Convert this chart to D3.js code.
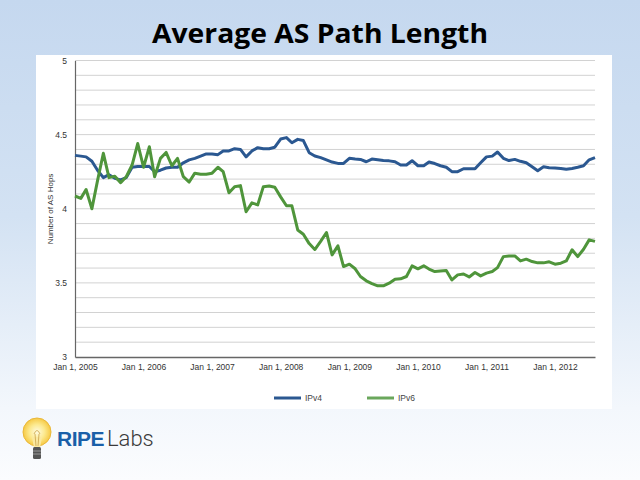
<!DOCTYPE html>
<html><head><meta charset="utf-8">
<script src="https://cdn.jsdelivr.net/npm/d3@7"></script>
<style>html,body{margin:0;padding:0;overflow:hidden;}svg{display:block;}</style>
</head><body>
<script>
const title = "Average AS Path Length";
const yAxisTitle = "Number of AS Hops";
const seriesNames = ["IPv4", "IPv6"];
const seriesColors = ["#2b5891", "#4f953b"];
const legendColors = ["#2b5891", "#6aa75c"];
const yTicks = [3, 3.5, 4, 4.5, 5];
const xTickYears = [2005, 2006, 2007, 2008, 2009, 2010, 2011, 2012];
// monthly, Jan 2005 .. Aug 2012
const ipv4 = [4.36,4.355,4.35,4.32,4.26,4.21,4.23,4.205,4.195,4.21,4.28,4.285,
  4.285,4.285,4.25,4.26,4.275,4.28,4.28,4.31,4.33,4.34,4.355,4.37,
  4.37,4.365,4.39,4.39,4.405,4.40,4.35,4.39,4.412,4.405,4.405,4.415,
  4.47,4.48,4.445,4.468,4.46,4.378,4.356,4.345,4.33,4.315,4.306,4.306,
  4.34,4.335,4.333,4.317,4.335,4.33,4.325,4.323,4.317,4.295,4.295,4.324,
  4.29,4.29,4.315,4.305,4.29,4.28,4.25,4.25,4.27,4.27,4.27,4.31,
  4.35,4.355,4.383,4.34,4.325,4.333,4.32,4.31,4.283,4.257,4.283,4.277,
  4.275,4.272,4.266,4.272,4.28,4.29,4.33,4.345];
const ipv6 = [4.086,4.07,4.13,4.0,4.19,4.374,4.21,4.22,4.176,4.216,4.295,4.44,
  4.28,4.418,4.216,4.34,4.38,4.29,4.34,4.216,4.18,4.24,4.233,4.233,
  4.24,4.28,4.25,4.108,4.149,4.156,3.98,4.04,4.026,4.149,4.153,4.145,
  4.08,4.02,4.02,3.857,3.828,3.765,3.725,3.78,3.84,3.689,3.75,3.61,
  3.626,3.595,3.543,3.514,3.495,3.48,3.48,3.498,3.525,3.527,3.543,3.615,
  3.595,3.615,3.593,3.576,3.58,3.583,3.52,3.554,3.56,3.54,3.57,3.547,
  3.566,3.577,3.603,3.677,3.682,3.682,3.648,3.66,3.644,3.635,3.635,3.642,
  3.626,3.633,3.648,3.723,3.677,3.727,3.79,3.78];

const W = 640, H = 480;
const svg = d3.select("body").append("svg").attr("width", W).attr("height", H);
const defs = svg.append("defs");
const bg = defs.append("linearGradient").attr("id","bg").attr("x1",0).attr("y1",0).attr("x2",0).attr("y2",1);
bg.append("stop").attr("offset","0").attr("stop-color","#c5d8ef");
bg.append("stop").attr("offset","0.45").attr("stop-color","#d3e2f3");
bg.append("stop").attr("offset","0.85").attr("stop-color","#f3f7fc");
bg.append("stop").attr("offset","1").attr("stop-color","#fbfcfe");
svg.append("rect").attr("width",W).attr("height",H).attr("fill","url(#bg)");

svg.append("text").attr("x",320).attr("y",43).attr("text-anchor","middle")
  .attr("font-family","'Open Sans', sans-serif").attr("font-weight",700).attr("font-size",27)
  .attr("textLength",336).attr("lengthAdjust","spacingAndGlyphs")
  .attr("fill","#000").text(title);

// panel
svg.append("rect").attr("x",36).attr("y",55).attr("width",576).attr("height",354).attr("fill","#fff");

const dates = d3.timeMonth.range(new Date(2005,0,1), new Date(2012,8,1));
const x = d3.scaleTime().domain([new Date(2005,0,1), new Date(2012,7,1)]).range([75, 595]);
const y = d3.scaleLinear().domain([3,5]).range([357, 60.5]);

const g = svg.append("g").attr("font-family","'Liberation Sans', Arial, sans-serif");
// grid lines every 0.1
const gridVals = d3.range(31, 51).map(d => d/10);
g.append("g").selectAll("line").data(gridVals).join("line")
  .attr("x1",75).attr("x2",595).attr("y1",d=>y(d)).attr("y2",d=>y(d))
  .attr("stroke","#d2d2d2").attr("stroke-width",1);

// y axis
const yAxis = d3.axisLeft(y).tickValues(yTicks).tickSize(0).tickPadding(8).tickFormat(d3.format("~g"));
const ya = g.append("g").attr("transform","translate(75,0)").call(yAxis);
ya.select(".domain").attr("stroke","#666").attr("stroke-width",1.2);
ya.selectAll("text").attr("font-size",8.5).attr("fill","#333").attr("font-family","'Liberation Sans', Arial, sans-serif");

// x axis
const fmt = d3.timeFormat("%b %-d, %Y");
const xAxis = d3.axisBottom(x).tickValues(xTickYears.map(yy=>new Date(yy,0,1))).tickSize(0).tickPadding(7).tickFormat(fmt);
const xa = g.append("g").attr("transform","translate(0,357)").call(xAxis);
xa.select(".domain").attr("stroke","#666").attr("stroke-width",1.5);
xa.selectAll("text").attr("font-size",8.5).attr("fill","#333").attr("font-family","'Liberation Sans', Arial, sans-serif");

g.append("text").attr("transform","translate(53,209) rotate(-90)").attr("text-anchor","middle")
  .attr("font-size",8).attr("fill","#333").text(yAxisTitle);

const line = d3.line().x((d,i)=>x(dates[i])).y(d=>y(d));
[ipv4, ipv6].forEach((s, k) => {
  g.append("path").datum(s).attr("d", line).attr("fill","none")
    .attr("stroke", seriesColors[k]).attr("stroke-width", 3).attr("stroke-linejoin","round");
});

// legend
const legX = [274, 367];
seriesNames.forEach((n,k)=>{
  g.append("line").attr("x1",legX[k]).attr("x2",legX[k]+27).attr("y1",398).attr("y2",398)
    .attr("stroke",legendColors[k]).attr("stroke-width",3);
  g.append("text").attr("x",legX[k]+31).attr("y",401).attr("font-size",8.5).attr("fill","#444").text(n);
});

// logo
const logo = svg.append("g");
const glow = defs.append("radialGradient").attr("id","glow");
glow.append("stop").attr("offset","0").attr("stop-color","#fffbe0");
glow.append("stop").attr("offset","0.55").attr("stop-color","#fce98e");
glow.append("stop").attr("offset","1").attr("stop-color","#f6c944");
logo.append("circle").attr("cx",37).attr("cy",432).attr("r",14).attr("fill","url(#glow)").attr("stroke","#eab83a").attr("stroke-width",1);
logo.append("path").attr("d","M32,437 L34,448 L40,448 L42,437").attr("fill","#fbe9a0");
logo.append("path").attr("d","M34,434 Q37,427 40,434 M35,434 L36,446 M39,434 L38,446").attr("fill","none").attr("stroke","#c9a24a").attr("stroke-width",0.8);
logo.append("rect").attr("x",33).attr("y",447).attr("width",8).attr("height",12).attr("rx",1.5).attr("fill","#555");
logo.append("line").attr("x1",33).attr("x2",41).attr("y1",451).attr("y2",451).attr("stroke","#999");
logo.append("line").attr("x1",33).attr("x2",41).attr("y1",454).attr("y2",454).attr("stroke","#999");
const lt = logo.append("text").attr("x",57).attr("y",446).attr("font-family","'Liberation Sans', Arial, sans-serif").attr("font-size",21);
lt.append("tspan").attr("font-weight",700).attr("fill","#1a5fa8").attr("letter-spacing",-0.5).text("RIPE");
lt.append("tspan").attr("fill","#3a3a3a").attr("font-size",22).attr("font-family","Roboto, 'Liberation Sans', sans-serif").attr("font-weight",300).attr("dx",3).text("Labs");
</script>
</body></html>
